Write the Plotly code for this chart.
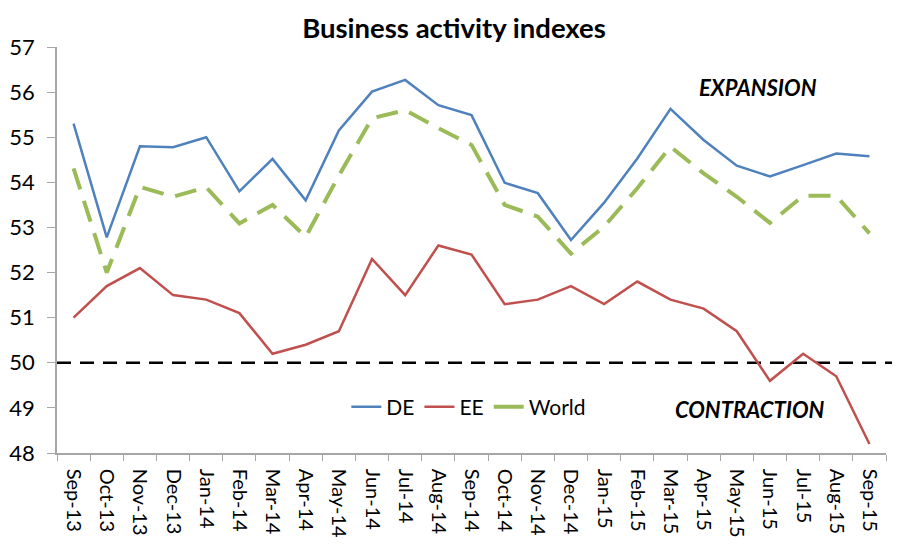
import plotly.graph_objects as go

months = ["Sep-13", "Oct-13", "Nov-13", "Dec-13", "Jan-14", "Feb-14", "Mar-14", "Apr-14",
          "May-14", "Jun-14", "Jul-14", "Aug-14", "Sep-14", "Oct-14", "Nov-14", "Dec-14",
          "Jan-15", "Feb-15", "Mar-15", "Apr-15", "May-15", "Jun-15", "Jul-15", "Aug-15", "Sep-15"]
de = [55.3, 52.78, 54.8, 54.78, 55.0, 53.8, 54.52, 53.6, 55.15, 56.01, 56.27, 55.71, 55.49,
      53.99, 53.76, 52.72, 53.55, 54.53, 55.63, 54.94, 54.37, 54.13, 54.38, 54.64, 54.58]
ee = [51.0, 51.7, 52.1, 51.5, 51.4, 51.1, 50.2, 50.4, 50.7, 52.3, 51.5, 52.6, 52.4,
      51.3, 51.4, 51.7, 51.3, 51.8, 51.4, 51.2, 50.7, 49.6, 50.2, 49.7, 48.2]
world = [54.31, 52.0, 53.9, 53.68, 53.89, 53.09, 53.5, 52.79, 54.15, 55.42, 55.6, 55.2, 54.83,
         53.5, 53.24, 52.42, 53.02, 53.87, 54.79, 54.2, 53.68, 53.1, 53.7, 53.7, 52.87]
y_ticks = [48, 49, 50, 51, 52, 53, 54, 55, 56, 57]
THRESHOLD = 50

FONT = "Lato"
C_DE, C_EE, C_WORLD = "#4F81BD", "#C0504D", "#9BBB59"

fig = go.Figure()
fig.add_trace(go.Scatter(x=months, y=de, name="DE", mode="lines",
                         line=dict(color=C_DE, width=2.5)))
fig.add_trace(go.Scatter(x=months, y=ee, name="EE", mode="lines",
                         line=dict(color=C_EE, width=2.5)))
fig.add_trace(go.Scatter(x=months, y=world, name="World", mode="lines", showlegend=False,
                         legendgroup="w_line",
                         line=dict(color=C_WORLD, width=4, dash="22px,12px")))
# legend entry for World drawn with a solid sample, as in the original
fig.add_trace(go.Scatter(x=months, y=[None] * len(months), name="World", mode="lines",
                         legendgroup="w_key", showlegend=True,
                         line=dict(color=C_WORLD, width=4, dash="solid"), hoverinfo="skip"))

fig.add_shape(type="line", xref="paper", x0=0, x1=1.009, yref="y", y0=THRESHOLD, y1=THRESHOLD,
              line=dict(color="black", width=2.5, dash="14px,9px"), layer="below")

fig.add_annotation(text="<b><i>EXPANSION</i></b>", xref="paper", yref="paper",
                   x=0.846, y=0.901, xanchor="center", yanchor="middle", showarrow=False,
                   font=dict(family=FONT, size=22, color="black"))
fig.add_annotation(text="<b><i>CONTRACTION</i></b>", xref="paper", yref="paper",
                   x=0.836, y=0.106, xanchor="center", yanchor="middle", showarrow=False,
                   font=dict(family=FONT, size=22, color="black"))

# page body has an 8px margin; figure is sized/positioned to compensate
fig.update_layout(
    width=892, height=544,
    margin=dict(l=49, r=14, t=39, b=99),
    paper_bgcolor="white", plot_bgcolor="white",
    title=dict(text="<b>Business activity indexes</b>", x=0.5, xanchor="center",
               y=0.963, yanchor="middle", font=dict(family=FONT, size=27.5, color="black")),
    font=dict(family=FONT, color="black"),
    showlegend=True,
    legend=dict(orientation="h", x=0.349, y=0.113, xanchor="left", yanchor="middle",
                bgcolor="rgba(0,0,0,0)", font=dict(family=FONT, size=21),
                itemwidth=30, tracegroupgap=0),
)
fig.update_xaxes(type="category", range=[-0.5, len(months) - 0.5], tickangle=90,
                 automargin=False, ticklabelstandoff=10,
                 showline=True, linecolor="#A6A6A6", linewidth=1.5,
                 ticks="outside", tickson="boundaries", ticklen=6, tickcolor="#A6A6A6",
                 showgrid=False, zeroline=False, tickfont=dict(family=FONT, size=20))
fig.update_yaxes(range=[48, 57], tickvals=y_ticks, showline=True, linecolor="#A6A6A6",
                 automargin=False, ticklabelstandoff=8,
                 linewidth=1.5, ticks="outside", ticklen=8, tickcolor="#A6A6A6",
                 showgrid=False, zeroline=False, tickfont=dict(family=FONT, size=22))

fig.write_html("out.html")
